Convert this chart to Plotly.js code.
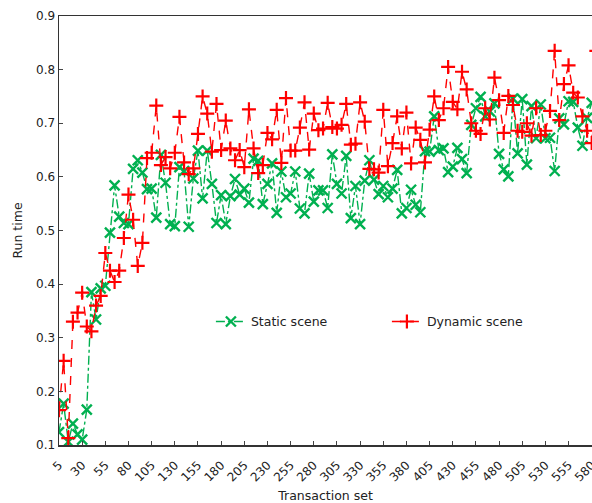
<!DOCTYPE html>
<html>
<head>
<meta charset="utf-8">
<script src="https://cdn.plot.ly/plotly-3.0.1.min.js"></script>
<style>html,body{margin:0;padding:0;background:#fff;}#chart{width:592px;height:503px;}</style>
</head>
<body>
<div id="chart"></div>
<script>
// Transaction set sizes (x)
const transactionSet = [];
for (let v = 5; v <= 585; v += 5) transactionSet.push(v);

// Static scene run times, x = 5 .. 580
const staticScene = [
  0.124, 0.177, 0.106, 0.140, 0.120, 0.110, 0.166, 0.385, 0.334, 0.392,
  0.397, 0.496, 0.584, 0.526, 0.514, 0.512, 0.615, 0.631, 0.608, 0.577,
  0.578, 0.524, 0.641, 0.589, 0.512, 0.508, 0.618, 0.611, 0.507, 0.597,
  0.649, 0.560, 0.649, 0.587, 0.514, 0.566, 0.512, 0.564, 0.596, 0.567,
  0.578, 0.552, 0.634, 0.630, 0.549, 0.587, 0.625, 0.533, 0.610, 0.562,
  0.569, 0.610, 0.541, 0.532, 0.606, 0.554, 0.575, 0.575, 0.542, 0.642,
  0.587, 0.569, 0.639, 0.523, 0.583, 0.512, 0.593, 0.631, 0.595, 0.568,
  0.583, 0.562, 0.578, 0.613, 0.532, 0.542, 0.576, 0.548, 0.534, 0.648,
  0.647, 0.713, 0.650, 0.653, 0.609, 0.619, 0.654, 0.633, 0.607, 0.697,
  0.728, 0.749, 0.713, 0.722, 0.737, 0.643, 0.614, 0.601, 0.746, 0.644,
  0.745, 0.623, 0.732, 0.672, 0.735, 0.672, 0.673, 0.611, 0.709, 0.698,
  0.741, 0.740, 0.692, 0.658, 0.710, 0.738
];

// Dynamic scene run times, x = 5 .. 585
const dynamicScene = [
  0.165, 0.257, 0.113, 0.330, 0.347, 0.384, 0.321, 0.312, 0.360, 0.378,
  0.458, 0.425, 0.404, 0.425, 0.486, 0.567, 0.520, 0.434, 0.477, 0.635,
  0.645, 0.733, 0.622, 0.637, 0.616, 0.645, 0.712, 0.627, 0.605, 0.616,
  0.680, 0.750, 0.718, 0.647, 0.736, 0.650, 0.705, 0.653, 0.631, 0.650,
  0.618, 0.726, 0.653, 0.607, 0.622, 0.682, 0.670, 0.725, 0.626, 0.747,
  0.649, 0.649, 0.692, 0.739, 0.651, 0.718, 0.687, 0.690, 0.738, 0.693,
  0.690, 0.697, 0.736, 0.660, 0.662, 0.739, 0.703, 0.615, 0.614, 0.608,
  0.725, 0.620, 0.663, 0.713, 0.653, 0.720, 0.625, 0.692, 0.669, 0.627,
  0.688, 0.750, 0.706, 0.728, 0.805, 0.740, 0.726, 0.796, 0.763, 0.700,
  0.686, 0.680, 0.728, 0.707, 0.785, 0.743, 0.682, 0.751, 0.734, 0.686,
  0.684, 0.700, 0.677, 0.728, 0.678, 0.686, 0.723, 0.835, 0.706, 0.773,
  0.808, 0.757, 0.748, 0.713, 0.686, 0.663, 0.835
];

const xTickVals = [5,30,55,80,105,130,155,180,205,230,255,280,305,330,355,380,405,430,455,480,505,530,555,580];
const xTickText = xTickVals.map(String);
const yTickVals = [0.1,0.2,0.3,0.4,0.5,0.6,0.7,0.8,0.9];
const yTickText = ['0.1','0.2','0.3','0.4','0.5','0.6','0.7','0.8','0.9'];

const green = '#00b050';
const red = '#ff0000';
const font = 'DejaVu Sans, Verdana, sans-serif';

const traces = [
  {
    x: transactionSet.slice(0, staticScene.length), y: staticScene,
    name: 'Static scene', type: 'scatter', mode: 'lines+markers',
    line: {color: green, width: 1.4, dash: 'dashdot'},
    marker: {symbol: 'x-thin', size: 10, color: green, line: {color: green, width: 2.4}}
  },
  {
    x: transactionSet.slice(0, dynamicScene.length), y: dynamicScene,
    name: 'Dynamic scene', type: 'scatter', mode: 'lines+markers',
    line: {color: red, width: 1.4, dash: 'dash'},
    marker: {symbol: 'cross-thin', size: 10, color: red, line: {color: red, width: 2.2}}
  }
];

const layout = {
  width: 592, height: 503,
  margin: {l: 59, r: 0, t: 16, b: 58},
  paper_bgcolor: '#fff', plot_bgcolor: '#fff',
  font: {family: font, size: 12, color: '#222'},
  showlegend: true,
  legend: {
    orientation: 'h', x: 0.285, y: 0.287, xanchor: 'left', yanchor: 'middle',
    bgcolor: 'rgba(0,0,0,0)', font: {family: font, size: 12.5, color: '#222'},
    entrywidth: 131, entrywidthmode: 'pixels'
  },
  xaxis: {
    range: [5, 580.3], tickmode: 'array', tickvals: xTickVals, ticktext: xTickText,
    tickangle: -45, ticks: 'inside', ticklen: 4, tickcolor: '#444',
    ticklabeloverflow: 'allow', ticklabelstandoff: 7,
    showline: true, linecolor: '#333', linewidth: 1.5, mirror: true,
    showgrid: false, zeroline: false,
    tickfont: {family: font, size: 12, color: '#222'},
    title: {text: 'Transaction set', font: {family: font, size: 12.5, color: '#222'}, standoff: 8}
  },
  yaxis: {
    range: [0.1, 0.9], tickmode: 'array', tickvals: yTickVals, ticktext: yTickText,
    ticks: 'inside', ticklen: 4, tickcolor: '#444',
    showline: true, linecolor: '#333', linewidth: 1.5, mirror: false,
    showgrid: false, zeroline: false,
    tickfont: {family: font, size: 12, color: '#222'},
    title: {text: 'Run time', font: {family: font, size: 12.5, color: '#222'}, standoff: 10}
  }
};

Plotly.newPlot('chart', traces, layout, {displayModeBar: false, staticPlot: true});
</script>
</body>
</html>
